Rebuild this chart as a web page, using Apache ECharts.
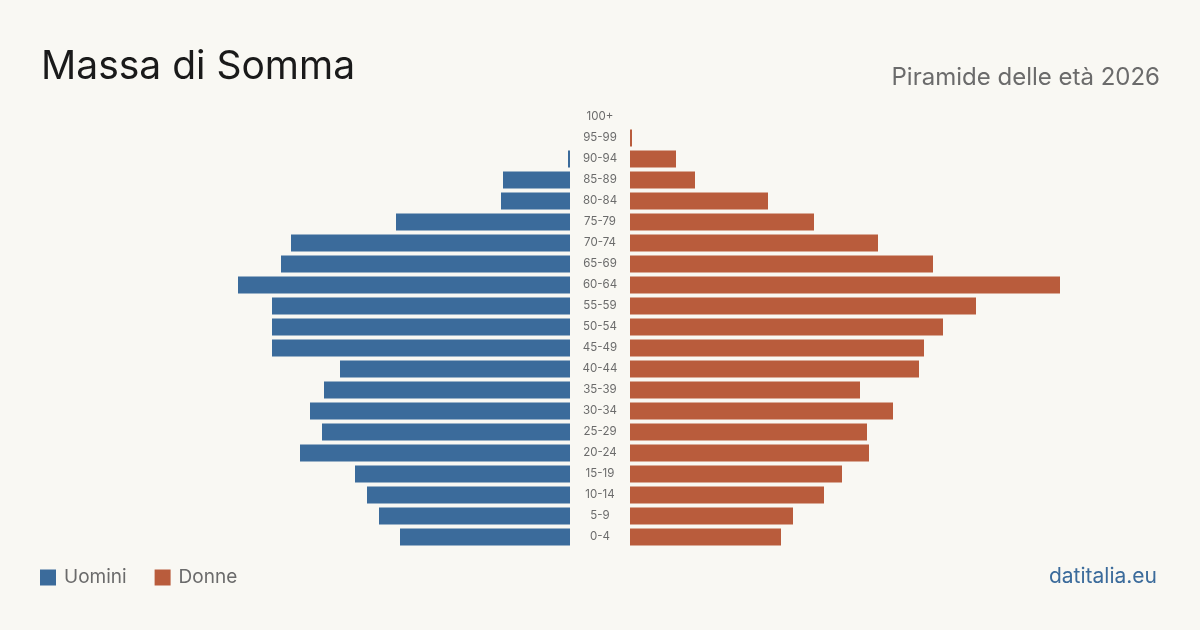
<!DOCTYPE html>
<html>
<head>
  <meta charset="utf-8">
  <title>Massa di Somma - Piramide delle età 2026</title>
  <script src="https://cdn.jsdelivr.net/npm/echarts@6.0.0/dist/echarts.min.js"></script>
  <style>
    html, body { margin: 0; padding: 0; background: #f9f8f3; }
    #main { width: 1200px; height: 630px; }
  </style>
</head>
<body>
  <div id="main"></div>
  <script>
    // fasce d'età, dal basso verso l'alto
    const ageGroups = ['0-4', '5-9', '10-14', '15-19', '20-24', '25-29', '30-34', '35-39', '40-44', '45-49',
      '50-54', '55-59', '60-64', '65-69', '70-74', '75-79', '80-84', '85-89', '90-94', '95-99', '100+'];
    const uomini = [170, 191, 203, 215, 270, 248, 260, 246, 230, 298,
      298, 298, 332, 289, 279, 174, 69, 67, 2, 0, 0];
    const donne = [151, 163, 194, 212, 239, 237, 263, 230, 289, 294,
      313, 346, 430, 303, 248, 184, 138, 65, 46, 2, 0];

    const blu = '#3b6b9b';
    const rosso = '#b95c3c';
    const font = 'Inter, "Noto Sans", sans-serif';

    const chart = echarts.init(document.getElementById('main'));

    const option = {
      backgroundColor: '#f9f8f3',
      animation: false,
      textStyle: { fontFamily: font },
      title: [
        {
          text: 'Massa di Somma',
          left: 36, top: 43,
          textStyle: { fontSize: 39, fontWeight: 'normal', color: '#1a1a1a', fontFamily: font }
        },
        {
          text: 'Piramide delle età 2026',
          right: 35, top: 61,
          textStyle: { fontSize: 24, fontWeight: 'normal', color: '#6b6b6b', fontFamily: font }
        },
        {
          text: 'datitalia.eu',
          right: 38, top: 561,
          textStyle: { fontSize: 21, fontWeight: 'normal', color: blu, fontFamily: font }
        }
      ],
      legend: {
        left: 35, top: 563,
        icon: 'rect',
        itemWidth: 16, itemHeight: 16,
        itemGap: 28,
        textStyle: { fontSize: 19, color: '#6b6b6b', fontFamily: font, padding: [0, 0, 0, 3] },
        data: ['Uomini', 'Donne']
      },
      grid: [
        { left: 70, right: 630, top: 106.5, bottom: 82.5 },
        { left: 630, right: 70, top: 106.5, bottom: 82.5 }
      ],
      xAxis: [
        { gridIndex: 0, type: 'value', inverse: true, min: 0, max: 500, show: false },
        { gridIndex: 1, type: 'value', min: 0, max: 500, show: false }
      ],
      yAxis: [
        { gridIndex: 0, type: 'category', data: ageGroups, show: false },
        {
          gridIndex: 1, type: 'category', data: ageGroups,
          axisLine: { show: false }, axisTick: { show: false }, splitLine: { show: false },
          axisLabel: { align: 'center', margin: 30, fontSize: 11.5, lineHeight: 14, padding: [4, 0, 0, 0], color: '#6b6b6b', fontFamily: font }
        }
      ],
      series: [
        {
          name: 'Uomini', type: 'bar', xAxisIndex: 0, yAxisIndex: 0,
          data: uomini, barWidth: 17, itemStyle: { color: blu }
        },
        {
          name: 'Donne', type: 'bar', xAxisIndex: 1, yAxisIndex: 1,
          data: donne, barWidth: 17, itemStyle: { color: rosso }
        }
      ]
    };

    chart.setOption(option);
  </script>
</body>
</html>
